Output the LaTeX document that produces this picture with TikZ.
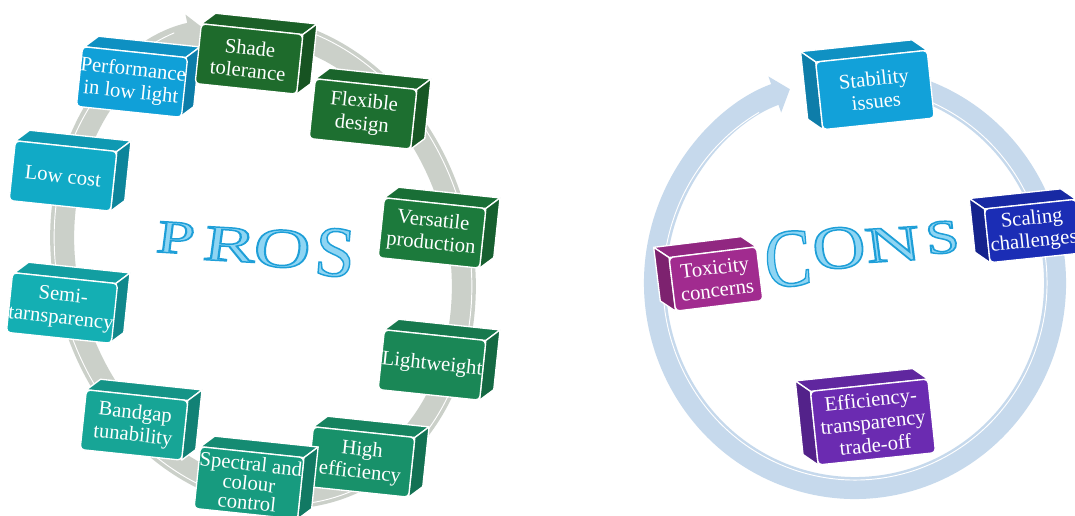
\documentclass[tikz,border=0pt]{standalone}
\usepackage{fontspec}
\setmainfont{Liberation Serif}
\usetikzlibrary{arrows.meta}
\definecolor{cPerf}{HTML}{10A0D8}
\definecolor{cShade}{HTML}{1E6B2C}
\definecolor{cFlex}{HTML}{1D6F30}
\definecolor{cVers}{HTML}{1C7A3C}
\definecolor{cLight}{HTML}{1A8756}
\definecolor{cHigh}{HTML}{18916A}
\definecolor{cSpec}{HTML}{179B7F}
\definecolor{cBand}{HTML}{17A596}
\definecolor{cSemi}{HTML}{14AFB3}
\definecolor{cLow}{HTML}{11AAC6}
\definecolor{cStab}{HTML}{12A1D9}
\definecolor{cScal}{HTML}{1B2DB5}
\definecolor{cTox}{HTML}{A12B8F}
\definecolor{cEff}{HTML}{6B2BB1}
\definecolor{ringgray}{HTML}{CBD0C9}
\definecolor{ringblue}{HTML}{C6D9EC}
\definecolor{letterfill}{HTML}{8FD5F3}
\newcommand{\olt}[1]{\special{pdf:literal direct 2 Tr 1.1 w 0.118 0.624 0.847 RG}#1\special{pdf:literal direct 0 Tr}}
\tikzset{
  face/.style={rounded corners=3pt, draw=white, line width=1pt, text=white, align=center,
    font=\fontsize{15.5}{17}\selectfont, inner sep=0pt, transform shape},
  ringP/.style={line width=18pt, draw=ringgray},
  ringC/.style={line width=16.5pt, draw=ringblue},
  bigletter/.style={text=letterfill, inner sep=0pt, anchor=base},
}
\newcommand{\cube}[9]{%
 \begin{scope}[shift={(#2,#3)},rotate=#6]
  \pgfmathsetmacro\hw{#4/2}%
  \pgfmathsetmacro\hh{#5/2}%
  \pgfmathsetmacro\sx{#7>0 ? \hw : -\hw}%
  \fill[#8!90!black, draw=white, line width=1pt, line join=round] (-\hw,-\hh) -- ++(#7,-12) -- ++(#4,0) -- (\hw,-\hh) -- cycle;
  \fill[#8!78!black, draw=white, line width=1pt, line join=round] (\sx,-\hh) -- ++(#7,-12) -- ++(0,#5) -- (\sx,\hh) -- cycle;
  \node[face, fill=#8, minimum width=#4*0.75pt, minimum height=#5*0.75pt] (#1) at (0,0) {#9};
 \end{scope}}
\begin{document}
\begin{tikzpicture}[x=0.75pt,y=-0.75pt]
\useasboundingbox (0,0) rectangle (1075,516);
\fill[white] (0,0) rectangle (1075,516);
% PROS ring
\begin{scope}[shift={(263,262)}, rotate=-73]
  \coordinate (pst) at (210:238 and 197);
  \draw[ringP, -{Triangle[width=30pt,length=13pt]}] (pst) arc[start angle=210, end angle=544, x radius=238, y radius=197];
  \coordinate (pwl) at (210:246 and 205);
  \draw[white, line width=0.7pt] (pwl) arc[start angle=210, end angle=535, x radius=246, y radius=205];
\end{scope}
% CONS ring
\begin{scope}[shift={(855,283)}]
  \coordinate (cst) at (290:200 and 205);
  \draw[ringC, -{Triangle[width=28pt,length=12pt]}] (cst) arc[start angle=290, end angle=611, x radius=200, y radius=205];
  \coordinate (cwl) at (290:192 and 197);
  \draw[white, line width=0.7pt] (cwl) arc[start angle=290, end angle=600, x radius=192, y radius=197];
\end{scope}
% PROS boxes
\cube{perf}{132}{82}{102}{60}{-6}{13}{cPerf}{Performance\\in low light}
\cube{shade}{249}{59}{102}{60}{-6}{13}{cShade}{Shade\\tolerance}
\cube{flex}{363}{114}{102}{60}{-6}{13}{cFlex}{Flexible\\design}
\cube{vers}{432}{233}{102}{60}{-6}{13}{cVers}{Versatile\\production}
\cube{light}{432}{365}{102}{60}{-6}{13}{cLight}{Lightweight}
\cube{high}{361}{462}{102}{60}{-6}{13}{cHigh}{High\\efficiency}
\cube{spec}{249}{483}{104}{62}{-6}{13}{cSpec}{Spectral and\\[-2.5pt]colour\\[-2.5pt]control}
\cube{band}{134}{425}{102}{60}{-6}{13}{cBand}{Bandgap\\tunability}
\cube{semi}{62}{308}{102}{60}{-6}{13}{cSemi}{Semi-\\tarnsparency}
\cube{low}{63}{176}{102}{60}{-6}{13}{cLow}{Low cost}
% CONS boxes
\cube{stab}{875}{90}{112}{68}{6}{-14}{cStab}{Stability\\issues}
\cube{scal}{1033}{231}{92}{54}{6}{-14}{cScal}{Scaling\\challenges}
\cube{tox}{716}{279}{88}{54}{7}{-14}{cTox}{Toxicity\\concerns}
\cube{eff}{873}{422}{118}{74}{6}{-14}{cEff}{Efficiency-\\transparency\\trade-off}
% big words
\node[bigletter, font=\fontsize{35}{35}\selectfont, xscale=1.45, rotate=-5] (lP) at (174,253) {\olt{P}};
\node[bigletter, font=\fontsize{38}{38}\selectfont, xscale=1.55, rotate=-5] (lR) at (228,261) {\olt{R}};
\node[bigletter, font=\fontsize{42}{42}\selectfont, xscale=1.4, rotate=-5] (lO) at (280,267) {\olt{O}};
\node[bigletter, font=\fontsize{54}{54}\selectfont, xscale=1.0, rotate=-5] (lS) at (333,276) {\olt{S}};
\node[bigletter, font=\fontsize{62}{62}\selectfont, xscale=0.85, rotate=5] (kC) at (790,286) {\olt{C}};
\node[bigletter, font=\fontsize{46}{46}\selectfont, xscale=1.2, rotate=5] (kO) at (841,268) {\olt{O}};
\node[bigletter, font=\fontsize{38}{38}\selectfont, xscale=1.5, rotate=5] (kN) at (895,261) {\olt{N}};
\node[bigletter, font=\fontsize{36}{36}\selectfont, xscale=1.25, rotate=5] (kS) at (944,253) {\olt{S}};
\end{tikzpicture}
\end{document}
